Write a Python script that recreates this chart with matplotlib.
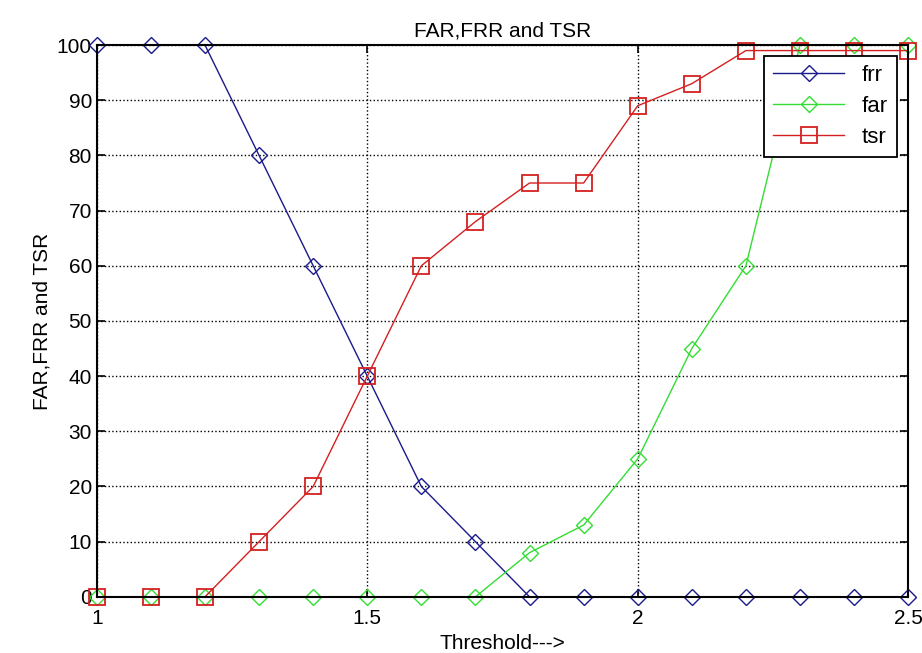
import numpy as np
import matplotlib.pyplot as plt

threshold = [1.0, 1.1, 1.2, 1.3, 1.4, 1.5, 1.6, 1.7, 1.8, 1.9, 2.0, 2.1, 2.2, 2.3, 2.4, 2.5]
frr = [100, 100, 100, 80, 60, 40, 20, 10, 0, 0, 0, 0, 0, 0, 0, 0]
far = [0, 0, 0, 0, 0, 0, 0, 0, 8, 13, 25, 45, 60, 100, 100, 100]
tsr = [0, 0, 0, 10, 20, 40, 60, 68, 75, 75, 89, 93, 99, 99, 99, 99]

plt.rcParams['font.family'] = ['Liberation Sans', 'DejaVu Sans']

fig = plt.figure(figsize=(9.22, 6.53), dpi=100)
ax = fig.add_axes([0.105, 0.086, 0.880, 0.845])

ax.plot(threshold, frr, color='#1a1a8c', marker='D', markersize=8, markerfacecolor='none',
        markeredgewidth=1.0, linewidth=1.0, label='frr', clip_on=False)
ax.plot(threshold, far, color='#33dd33', marker='D', markersize=8, markerfacecolor='none',
        markeredgewidth=1.0, linewidth=1.0, label='far', clip_on=False)
ax.plot(threshold, tsr, color='#d42020', marker='s', markersize=12, markerfacecolor='none',
        markeredgewidth=1.3, linewidth=1.0, label='tsr', clip_on=False)

ax.set_xlim(1, 2.5)
ax.set_ylim(0, 100)
ax.set_xticks([1, 1.5, 2, 2.5])
ax.set_xticklabels(['1', '1.5', '2', '2.5'])
ax.set_yticks(range(0, 101, 10))
ax.tick_params(direction='in', top=True, right=True, labelsize=15, length=6, width=1.2)
ax.tick_params(axis='x', pad=9)
ax.grid(True, color='black', linestyle=':', linewidth=1.0)
for s in ax.spines.values():
    s.set_linewidth(1.5)

ax.set_title('FAR,FRR and TSR', fontsize=15)
ax.set_xlabel('Threshold--->', fontsize=15)
ax.set_ylabel('FAR,FRR and TSR', fontsize=15)

leg = ax.legend(loc='upper right', fontsize=16, fancybox=False, framealpha=1,
                edgecolor='black', handlelength=3.2, borderaxespad=0.5,
                labelspacing=0.45)
leg.get_frame().set_linewidth(1.3)
leg.set_zorder(5)

fig.savefig('out.png', dpi=100)
